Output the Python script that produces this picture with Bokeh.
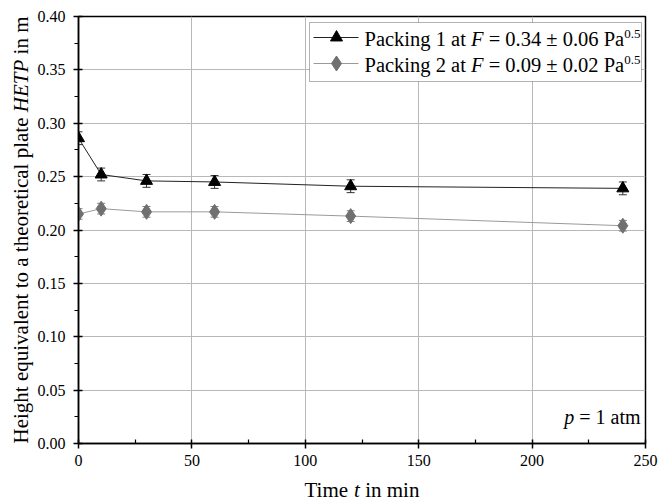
import math
from bokeh.plotting import figure
from bokeh.layouts import row, column
from bokeh.models import (Label, Whisker, ColumnDataSource, FixedTicker, BoxAnnotation,
                          Range1d, TeeHead, CustomJSTickFormatter)
from bokeh.embed import file_html
from bokeh.resources import INLINE

# ---- data ----
time_min = [0, 10, 30, 60, 120, 240]
hetp_p1 = [0.286, 0.252, 0.246, 0.245, 0.241, 0.239]
err_p1 = [0.006, 0.006, 0.006, 0.006, 0.006, 0.006]
hetp_p2 = [0.215, 0.220, 0.217, 0.217, 0.213, 0.204]
err_p2 = [0.005, 0.005, 0.005, 0.005, 0.005, 0.005]
x_ticks = [0, 50, 100, 150, 200, 250]
x_minor = [25, 75, 125, 175, 225]
y_ticks = [0.00, 0.05, 0.10, 0.15, 0.20, 0.25, 0.30, 0.35, 0.40]
y_minor = [0.025, 0.075, 0.125, 0.175, 0.225, 0.275, 0.325, 0.375]
legend_rows = [
    ("Packing 1 at ", "F", " = 0.34 ± 0.06 Pa", "0.5"),
    ("Packing 2 at ", "F", " = 0.09 ± 0.02 Pa", "0.5"),
]
y_title = [("Height equivalent to a theoretical plate ", False), ("HETP", True), (" in m", False)]
x_title = [("Time ", False), ("t", True), (" in min", False)]
note = [("p", True), (" = 1 atm", False)]

FONT = "Liberation Serif"
MID = 0.34              # em-box middle above the baseline, in ems
TOTAL_W, TOTAL_H = 658, 501
STRIP_W = 34            # left strip holding the y title
XSTRIP_H = 22           # bottom strip holding the x title
FL, FT = 78, 16         # frame left/top in page pixels
FW, FH = 567, 427
MAIN_W = TOTAL_W - STRIP_W
MAIN_H = TOTAL_H - XSTRIP_H
BL = FL - STRIP_W
BT = FT
BR = MAIN_W - BL - FW
BB = MAIN_H - BT - FH
X0, X1, Y0, Y1 = 0, 250, 0.0, 0.40

def X(fx):
    return X0 + fx * (X1 - X0) / FW

def Y(fy):
    return Y1 - fy * (Y1 - Y0) / FH

REG = {' ': 250, '.': 250, '=': 564, '±': 549, 'P': 556, 'a': 444, 'c': 444, 'k': 500,
       'i': 278, 'n': 500, 'g': 500, 't': 278, 'H': 722, 'e': 444, 'h': 500, 'q': 500,
       'u': 500, 'v': 500, 'l': 278, 'o': 500, 'r': 333, 'p': 500, 'm': 778, 'T': 611}
for d in "0123456789":
    REG[d] = 500
ITA = {'F': 611, 'H': 722, 'E': 611, 'T': 556, 'P': 611, 't': 278, 'p': 500, ' ': 250}

def tw(text, italic, size):
    tab = ITA if italic else REG
    return sum(tab.get(c, 500) for c in text) * size / 1000.0

def put_text(fig, x, y, pieces, angle=0.0, level="annotation"):
    """pieces: (text, italic, size, rise). (x, y): text start, vertically at the em-box middle
    of the main size; rise moves a piece up (along the text's up direction)."""
    off = 0.0
    for text, italic, size, rise in pieces:
        lead = len(text) - len(text.lstrip(" "))
        shown = text.strip(" ")
        lead_w = tw(" " * lead, italic, size)
        if shown:
            if angle == 0.0:
                lab = Label(x=x, y=y, x_offset=off + lead_w, y_offset=rise, text=shown)
            else:
                lab = Label(x=x, y=y, x_offset=-rise, y_offset=off + lead_w, text=shown, angle=angle)
            lab.text_font = FONT
            lab.text_font_size = f"{size}px"
            lab.text_font_style = "italic" if italic else "normal"
            lab.text_color = "black"
            lab.text_align = "left"
            lab.text_baseline = "middle"
            lab.level = level
            fig.add_layout(lab)
        off += tw(text, italic, size)
    return off

def strip(w, h, xr, yr):
    f = figure(width=w, height=h, output_backend="svg", toolbar_location=None,
               x_range=Range1d(*xr), y_range=Range1d(*yr),
               x_axis_type=None, y_axis_type=None,
               min_border=0, min_border_left=0, min_border_right=0,
               min_border_top=0, min_border_bottom=0)
    f.frame_align = False
    f.outline_line_color = None
    f.grid.visible = False
    f.background_fill_color = "white"
    f.border_fill_color = "white"
    return f

# ---- main plot ----
p = figure(width=MAIN_W, height=MAIN_H, output_backend="svg", toolbar_location=None,
           x_range=Range1d(X0, X1), y_range=Range1d(Y0, Y1),
           min_border_left=BL, min_border_right=BR, min_border_top=BT, min_border_bottom=BB)
p.frame_align = False
p.background_fill_color = "white"
p.border_fill_color = "white"
p.outline_line_color = "black"
p.outline_line_width = 1.5

p.axis.axis_line_color = "black"
p.axis.axis_line_width = 1.5
p.axis.major_tick_line_color = "black"
p.axis.major_tick_line_width = 1.5
p.axis.minor_tick_line_color = "black"
p.axis.minor_tick_line_width = 1.2
p.axis.major_tick_in = 4
p.axis.major_tick_out = 5
p.axis.major_label_text_font = FONT
p.axis.major_label_text_font_style = "normal"
p.axis.major_label_text_font_size = "16px"
p.axis.major_label_text_color = "black"

p.xaxis.ticker = FixedTicker(ticks=x_ticks, minor_ticks=x_minor)
p.yaxis.ticker = FixedTicker(ticks=y_ticks, minor_ticks=y_minor)
p.xaxis.minor_tick_in = 4
p.xaxis.minor_tick_out = 0
p.yaxis.minor_tick_in = 0
p.yaxis.minor_tick_out = 4
p.xaxis.major_label_standoff = 6
p.yaxis.major_label_standoff = 8
p.yaxis.formatter = CustomJSTickFormatter(code="return tick.toFixed(2);")
p.xaxis.formatter = CustomJSTickFormatter(code="return tick.toFixed(0);")

p.xgrid.grid_line_color = "#b8b8b8"
p.ygrid.grid_line_color = "#b8b8b8"
p.xgrid.grid_line_width = 1
p.ygrid.grid_line_width = 1

src1 = ColumnDataSource(dict(x=time_min, y=hetp_p1,
                             lo=[v - e for v, e in zip(hetp_p1, err_p1)],
                             hi=[v + e for v, e in zip(hetp_p1, err_p1)]))
src2 = ColumnDataSource(dict(x=time_min, y=hetp_p2,
                             lo=[v - e for v, e in zip(hetp_p2, err_p2)],
                             hi=[v + e for v, e in zip(hetp_p2, err_p2)]))

C1_LINE, C1_MARK = "#222222", "black"
C2_LINE, C2_MARK = "#9a9a9a", "#707070"

p.line("x", "y", source=src2, line_color=C2_LINE, line_width=1)
p.add_layout(Whisker(source=src2, base="x", lower="lo", upper="hi", dimension="height",
                     line_color="#808080", line_width=1,
                     upper_head=TeeHead(size=8, line_color="#808080", line_width=1),
                     lower_head=TeeHead(size=8, line_color="#808080", line_width=1)))
p.scatter("x", "y", source=src2, marker="diamond", size=15, fill_color=C2_MARK, line_color=C2_MARK)

p.line("x", "y", source=src1, line_color=C1_LINE, line_width=1)
p.add_layout(Whisker(source=src1, base="x", lower="lo", upper="hi", dimension="height",
                     line_color="#333333", line_width=1,
                     upper_head=TeeHead(size=8, line_color="#333333", line_width=1),
                     lower_head=TeeHead(size=8, line_color="#333333", line_width=1)))
p.scatter("x", "y", source=src1, marker="triangle", size=12, fill_color=C1_MARK, line_color=C1_MARK)

# note "p = 1 atm" (baseline 20 px above the frame bottom)
NOTE_SIZE = 20
note_pieces = [(t, i, NOTE_SIZE, 0) for t, i in note]
note_len = sum(tw(t, i, s) for t, i, s, r in note_pieces)
put_text(p, X(FW - 5 - note_len), Y(FH - 20 - MID * NOTE_SIZE), note_pieces)

# legend
LB_L, LB_R, LB_T, LB_B = 231, 563, 6, 65
p.add_layout(BoxAnnotation(left=X(LB_L), right=X(LB_R), top=Y(LB_T), bottom=Y(LB_B),
                           fill_color="white", fill_alpha=1.0, line_color="black",
                           line_width=1, level="annotation"))
row_y = [21, 47]
styles = [(C1_LINE, C1_MARK, "triangle", 12), (C2_LINE, C2_MARK, "diamond", 15)]
LEG_SIZE, SUP_SIZE = 20.5, 13
for (a, f, b, sup), ry, (lc, mc, mk, ms) in zip(legend_rows, row_y, styles):
    r = p.line([X(235), X(280)], [Y(ry), Y(ry)], line_color=lc, line_width=1)
    r.level = "overlay"
    s = p.scatter([X(258)], [Y(ry)], marker=mk, size=ms, fill_color=mc, line_color=mc)
    s.level = "overlay"
    put_text(p, X(286), Y(ry + 1),
             [(a, False, LEG_SIZE, 0), (f, True, LEG_SIZE, 0), (b, False, LEG_SIZE, 0),
              (sup, False, SUP_SIZE, 5)],
             level="overlay")

# ---- y title strip (pixel coordinates, y downwards) ----
TITLE_SIZE = 21
ys = strip(STRIP_W, MAIN_H, (0, STRIP_W), (MAIN_H, 0))
y_pieces = [(t, i, TITLE_SIZE, 0) for t, i in y_title]
y_len = sum(tw(t, i, s) for t, i, s, r in y_pieces)
put_text(ys, 28 - MID * TITLE_SIZE, FT + FH / 2 + y_len / 2, y_pieces, angle=math.pi / 2)

# ---- x title strip ----
xs = strip(TOTAL_W, XSTRIP_H, (0, TOTAL_W), (XSTRIP_H, 0))
x_pieces = [(t, i, TITLE_SIZE, 0) for t, i in x_title]
x_len = sum(tw(t, i, s) for t, i, s, r in x_pieces)
put_text(xs, FL + FW / 2 - x_len / 2, 18 - MID * TITLE_SIZE, x_pieces)

layout = column(row(ys, p, spacing=0), xs, spacing=0)
open("out.html", "w").write(file_html(layout, INLINE))
